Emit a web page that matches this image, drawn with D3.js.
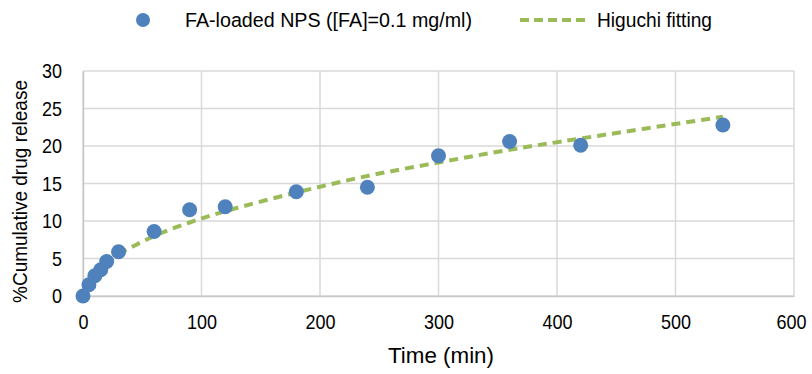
<!DOCTYPE html>
<html>
<head>
<meta charset="utf-8">
<script src="https://cdn.jsdelivr.net/npm/d3@7"></script>
<style>
  html, body { margin: 0; padding: 0; background: #fff; }
  svg { display: block; font-family: "Liberation Sans", Arial, sans-serif; }
</style>
</head>
<body>
<svg id="chart" width="812" height="374"></svg>
<script>
// Measured data (time in min, % cumulative release)
const timeMin = [0, 5, 10, 15, 20, 30, 60, 90, 120, 180, 240, 300, 360, 420, 540];
const releasePct = [0, 1.5, 2.7, 3.5, 4.6, 5.9, 8.6, 11.5, 11.9, 13.9, 14.5, 18.7, 20.6, 20.1, 22.8];
// Higuchi fitted curve
const fitTime = [30, 60, 90, 120, 180, 240, 300, 360, 420, 540];
const fitPct = [5.6, 8.0, 9.8, 11.3, 13.8, 16.0, 17.8, 19.5, 21.0, 23.9];
const xTicks = [0, 100, 200, 300, 400, 500, 600];
const yTicks = [0, 5, 10, 15, 20, 25, 30];
const seriesNames = ["FA-loaded NPS ([FA]=0.1 mg/ml)", "Higuchi fitting"];

const svg = d3.select("#chart");
const m = { left: 83, right: 812 - 794, top: 71, bottom: 374 - 296 };
const W = 812, H = 374;
const x = d3.scaleLinear().domain([0, 600]).range([m.left, W - m.right]);
const y = d3.scaleLinear().domain([0, 30]).range([H - m.bottom, m.top]);

const gridColor = "#d9d9d9";
// gridlines
svg.append("g").selectAll("line.v").data(xTicks).join("line")
  .attr("x1", d => x(d)).attr("x2", d => x(d))
  .attr("y1", y(0)).attr("y2", y(30))
  .attr("stroke", gridColor).attr("stroke-width", 1.5);
svg.append("g").selectAll("line.h").data(yTicks).join("line")
  .attr("x1", x(0)).attr("x2", x(600))
  .attr("y1", d => y(d)).attr("y2", d => y(d))
  .attr("stroke", gridColor).attr("stroke-width", 1.5);

// axes
const xAxis = svg.append("g").attr("transform", `translate(0,${y(0)})`)
  .call(d3.axisBottom(x).tickValues(xTicks).tickSize(0).tickPadding(18));
const yAxis = svg.append("g").attr("transform", `translate(${x(0)},0)`)
  .call(d3.axisLeft(y).tickValues(yTicks).tickSize(0).tickPadding(21));
[xAxis, yAxis].forEach(g => {
  g.select(".domain").attr("stroke", "#c8c8c8").attr("stroke-width", 1.5);
  g.selectAll("text").attr("font-size", 21).attr("fill", "#000")
    .attr("font-family", "'Liberation Sans', Arial, sans-serif")
    .attr("textLength", function () { return this.textContent.length * 10; })
    .attr("lengthAdjust", "spacingAndGlyphs");
});
// keep the last x label inside the frame
xAxis.selectAll(".tick text").filter(d => d === 600).attr("text-anchor", "end").attr("x", 12);

// fitted line
const line = d3.line().x((d, i) => x(fitTime[i])).y((d, i) => y(fitPct[i])).curve(d3.curveCatmullRom);
svg.append("path").datum(fitPct).attr("d", line)
  .attr("fill", "none").attr("stroke", "#9bbb59").attr("stroke-width", 4)
  .attr("stroke-dasharray", "9,6").attr("stroke-linecap", "butt");

// points
svg.append("g").selectAll("circle").data(releasePct).join("circle")
  .attr("cx", (d, i) => x(timeMin[i])).attr("cy", d => y(d)).attr("r", 7.5)
  .attr("fill", "#4f81bd");

// axis titles
svg.append("text").attr("x", 441).attr("y", 363)
  .attr("text-anchor", "middle").attr("font-size", 21.5)
  .attr("textLength", 106).attr("lengthAdjust", "spacingAndGlyphs").text("Time (min)");
svg.append("text").attr("transform", `translate(27,${(80 + 303) / 2}) rotate(-90)`)
  .attr("text-anchor", "middle").attr("font-size", 21)
  .attr("textLength", 223).attr("lengthAdjust", "spacingAndGlyphs").text("%Cumulative drug release");

// legend
const lg = svg.append("g");
lg.append("circle").attr("cx", 143).attr("cy", 20).attr("r", 7).attr("fill", "#4f81bd");
lg.append("text").attr("x", 185).attr("y", 27).attr("font-size", 20.5)
  .attr("textLength", 287).attr("lengthAdjust", "spacingAndGlyphs").text(seriesNames[0]);
lg.append("line").attr("x1", 520).attr("x2", 590).attr("y1", 20).attr("y2", 20)
  .attr("stroke", "#9bbb59").attr("stroke-width", 4).attr("stroke-dasharray", "9,5")
  .attr("stroke-linecap", "butt");
lg.append("text").attr("x", 597).attr("y", 27).attr("font-size", 20.5)
  .attr("textLength", 115).attr("lengthAdjust", "spacingAndGlyphs").text(seriesNames[1]);
</script>
</body>
</html>
